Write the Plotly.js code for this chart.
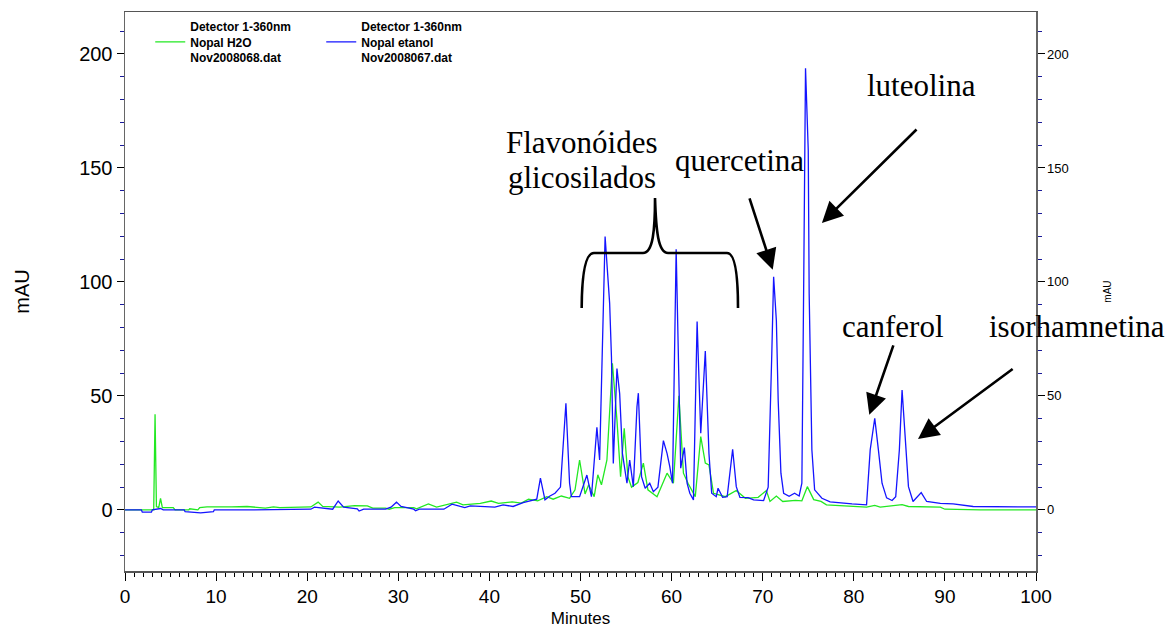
<!DOCTYPE html>
<html>
<head>
<meta charset="utf-8">
<script src="https://cdn.plot.ly/plotly-3.0.1.min.js"></script>
<style>html,body{margin:0;padding:0;background:#fff;}#chart{width:1169px;height:628px;}</style>
</head>
<body>
<div id="chart"></div>
<script>
// ---- Data (minutes, mAU) ----
const h2oTime = [
  0, 2.0, 3.15, 3.3, 3.45, 3.7, 3.9, 4.1, 5.3, 5.5,
  7.0, 7.1, 8.0, 8.2, 9.0, 11.7, 13.4, 15.4, 16.3, 17.0,
  20.4, 21.2, 21.7, 23.6, 25.2, 26.6, 27.2, 28.6, 29.0, 29.6,
  31.7, 32.0, 33.3, 34.2, 36.4, 37.1, 37.9, 39.0, 40.2, 41.0,
  42.5, 43.5, 44.3, 45.3, 46.3, 47.0, 47.9, 48.8, 49.4, 49.9,
  50.5, 50.9, 51.5, 51.9, 52.3, 52.9, 53.5, 54.0, 54.4, 54.8,
  55.2, 55.6, 56.3, 56.9, 57.4, 58.4, 59.5, 60.2, 60.8, 61.3,
  61.8, 62.6, 63.2, 63.7, 64.1, 64.6, 65.9, 67.1, 68.1, 69.5,
  70.4, 70.8, 71.5, 72.2, 73.6, 74.3, 74.9, 75.6, 76.4, 77.0,
  81.4, 82.3, 82.9, 85.3, 86.0, 89.5, 90.0, 93.9, 100
];
const h2oSignal = [
  0, 0, 0, 42, 1.5, 1, 5, 1, 1, 0,
  0, 0.5, 0, 1, 1.3, 1.3, 1.5, 0.8, 1.3, 1.0,
  1.3, 3.4, 1.5, 1.2, 1.9, 1.8, 0.8, 0.8, 0.3, 1.0,
  1.0, 0.5, 2.6, 1.2, 3.4, 2.2, 2.5, 2.9, 3.9, 2.9,
  3.5, 3.0, 4.7, 4.0, 5.8, 4.7, 6.1, 5.1, 8.8, 21.9,
  7.0, 11.0, 5.8, 15.4, 11.0, 21.9, 64.3, 39.5, 14.6, 35.8,
  14.6, 10.0, 12.0, 20.5, 8.8, 5.8, 16.1, 11.7, 50.0, 16.1,
  11.7, 5.8, 32.2, 20.5, 19.7, 7.3, 5.8, 8.5, 5.1, 5.5,
  8.5, 3.7, 6.1, 3.7, 4.2, 4.0, 10.2, 4.5, 3.7, 2.2,
  1.2, 2.0, 1.2, 2.3, 1.5, 1.2, 0.3, 0, 0
];

const etanolTime = [
  0, 1.8, 1.9, 2.9, 3.0, 3.9, 4.2, 6.5, 6.6, 8.3,
  9.7, 9.8, 14, 17, 20.4, 20.8, 22.8, 23.4, 24.0, 25.5,
  25.7, 26.2, 28.6, 29.2, 29.8, 30.3, 31.7, 31.9, 32.3, 35.0,
  35.9, 36.8, 37.3, 37.9, 39.2, 40.6, 41.5, 42.6, 43.7, 45.2,
  45.6, 46.1, 46.6, 47.2, 47.8, 48.4, 48.8, 49.0, 49.9, 50.7,
  51.2, 51.8, 52.1, 52.7, 53.2, 53.4, 53.6, 54.0, 54.3, 54.6,
  55.1, 55.4, 55.8, 56.2, 56.35, 56.7, 57.1, 57.6, 58.0, 58.5,
  59.1, 59.5, 59.8, 60.1, 60.5, 60.9, 61.0, 61.4, 61.7, 62.0,
  62.4, 62.8, 63.2, 63.7, 64.1, 64.4, 64.9, 65.1, 65.6, 66.1,
  66.7, 67.1, 67.5, 68.4, 69.0, 70.1, 70.6, 71.0, 71.2, 71.5,
  71.7, 72.0, 72.3, 72.9, 73.5, 74.0, 74.3, 74.5, 74.7, 75.0,
  75.1, 75.4, 75.7, 76.5, 77.4, 79.8, 81.4, 81.8, 82.3, 82.7,
  83.1, 83.6, 84.2, 84.6, 85.0, 85.3, 85.7, 86.0, 86.5, 87.4,
  88.0, 89.5, 90.9, 93.1, 100
];
const etanolSignal = [
  0, 0, -1, -1, 0, 0.6, 0, 0, -0.8, -1.3,
  -0.8, 0, 0, 0, 0.3, 1.2, 0.3, 3.9, 1.2, 0.5,
  -0.5, 0.3, 0.3, 1.2, 3.4, 1.5, 0.3, -0.4, 0.3, 0.3,
  2.5, 1.5, 1.0, 1.8, 1.5, 1.2, 2.2, 1.5, 3.2, 4.7,
  13.9, 4.4, 6.0, 7.3, 10.0, 46.8, 11.7, 5.8, 5.8, 15.3,
  5.8, 36.2, 21.9, 119.9, 90.6, 67.0, 20.4, 62.0, 51.0, 24.8,
  11.7, 21.9, 10.2, 45.3, 51.2, 14.6, 9.5, 11.7, 8.0, 10.0,
  30.4, 24.8, 19.0, 11.7, 114.3, 36.5, 18.3, 27.3, 11.7, 7.3,
  4.4, 82.6, 33.6, 69.7, 24.8, 7.3, 5.8, 9.5, 5.5, 5.8,
  26.6, 10.2, 5.5, 5.4, 4.4, 4.1, 10.0, 68.7, 102.3, 83.0,
  48.0, 16.1, 7.3, 6.0, 7.3, 6.1, 11.7, 99.4, 193.7, 157.9,
  95.0, 26.3, 8.8, 5.1, 3.5, 2.6, 2.2, 26.3, 40.2, 26.3,
  11.7, 5.3, 4.1, 5.8, 26.3, 52.6, 26.3, 10.2, 3.7, 7.6,
  3.7, 2.9, 2.6, 1.5, 1.3
];

const seriesNames = [
  '<b>Detector 1-360nm<br>Nopal H2O<br>Nov2008068.dat</b>',
  '<b>Detector 1-360nm<br>Nopal etanol<br>Nov2008067.dat</b>'
];
const xTickValues = [0, 10, 20, 30, 40, 50, 60, 70, 80, 90, 100];
const yTickValues = [0, 50, 100, 150, 200];
const compoundLabels = ['Flavonóides', 'glicosilados', 'quercetina', 'luteolina', 'canferol', 'isorhamnetina'];

// ---- Plot ----
const sans = 'Liberation Sans, Arial, sans-serif';
const serif = 'Liberation Serif, Times New Roman, serif';
const yRange = [-26.8, 218.4];

const traces = [
  {x: h2oTime, y: h2oSignal, type: 'scatter', mode: 'lines', name: seriesNames[0],
   line: {color: '#22e822', width: 1.3}, yaxis: 'y'},
  {x: etanolTime, y: etanolSignal, type: 'scatter', mode: 'lines', name: seriesNames[1],
   line: {color: '#1414ff', width: 1.3}, yaxis: 'y2'}
];

function yAxisBase() {
  return {
    range: yRange, tickvals: yTickValues, ticks: 'outside', ticklen: 7, tickwidth: 1,
    tickcolor: '#000', showline: true, linecolor: '#666', linewidth: 1.5,
    showgrid: false, zeroline: false,
    minor: {dtick: 10, tick0: 0, ticks: 'outside', ticklen: 4, tickcolor: '#1a1a9a', showgrid: false}
  };
}

const yLeft = Object.assign(yAxisBase(), {
  tickfont: {family: sans, size: 20, color: '#000'},
  title: {text: 'mAU', font: {family: sans, size: 20, color: '#000'}, standoff: 44}
});
const yRight = Object.assign(yAxisBase(), {
  overlaying: 'y', side: 'right',
  tickfont: {family: sans, size: 13, color: '#000'},
  title: {text: 'mAU', font: {family: sans, size: 10, color: '#000'}, standoff: 36}
});

const textAnn = (text, xp, yp) => ({
  text: text, xref: 'paper', yref: 'paper', x: xp, y: yp, showarrow: false,
  xanchor: 'center', yanchor: 'middle', font: {family: serif, size: 31, color: '#000'}
});
const arrowAnn = (x, y, ax, ay) => ({
  text: '', xref: 'x', yref: 'y', x: x, y: y, axref: 'x', ayref: 'y', ax: ax, ay: ay,
  showarrow: true, arrowhead: 2, arrowsize: 1.6, arrowwidth: 2.6, arrowcolor: '#000'
});

const layout = {
  width: 1169, height: 628,
  margin: {l: 125, r: 133, t: 12, b: 57},
  paper_bgcolor: '#fff', plot_bgcolor: '#fff',
  showlegend: true,
  legend: {
    orientation: 'h', x: 0.0277, y: 1.0, xanchor: 'left', yanchor: 'top',
    bgcolor: 'rgba(0,0,0,0)', font: {family: sans, size: 12, color: '#000'},
    entrywidth: 126, entrywidthmode: 'pixels', itemwidth: 30
  },
  xaxis: {
    range: [0, 100], tickvals: xTickValues, ticks: 'outside', ticklen: 8, tickwidth: 1,
    tickcolor: '#000', showline: true, linecolor: '#555', linewidth: 1.5, mirror: true,
    showgrid: false, zeroline: false,
    tickfont: {family: sans, size: 19, color: '#000'},
    minor: {dtick: 1, tick0: 0, ticks: 'outside', ticklen: 4, tickcolor: '#000', showgrid: false},
    title: {text: 'Minutes', font: {family: sans, size: 17, color: '#000'}, standoff: 10}
  },
  yaxis: yLeft,
  yaxis2: yRight,
  shapes: [{
    type: 'path', xref: 'x', yref: 'y',
    path: 'M50.13,88.6 Q50.16,112.7 51.48,112.7 L56.86,112.7 C57.96,112.7 58.18,122.8 58.18,136.8 ' +
          'C58.29,122.8 58.51,112.7 59.61,112.7 L66.08,112.7 Q67.29,112.7 67.29,88.6',
    line: {color: '#000', width: 2.6}
  }],
  annotations: [
    textAnn(compoundLabels[0], 0.5017, 0.7657),
    textAnn(compoundLabels[1], 0.5017, 0.7048),
    textAnn(compoundLabels[2], 0.674, 0.734),
    textAnn(compoundLabels[3], 0.8738, 0.869),
    textAnn(compoundLabels[4], 0.843, 0.438),
    textAnn(compoundLabels[5], 1.045, 0.438),
    arrowAnn(71.1, 105.3, 68.5, 137.3),
    arrowAnn(76.5, 125.9, 87.05, 167.5),
    arrowAnn(81.7, 41.7, 84.4, 72.8),
    arrowAnn(87.05, 31.1, 97.6, 62.3)
  ]
};

Plotly.newPlot('chart', traces, layout, {displayModeBar: false, staticPlot: true});
</script>
</body>
</html>
